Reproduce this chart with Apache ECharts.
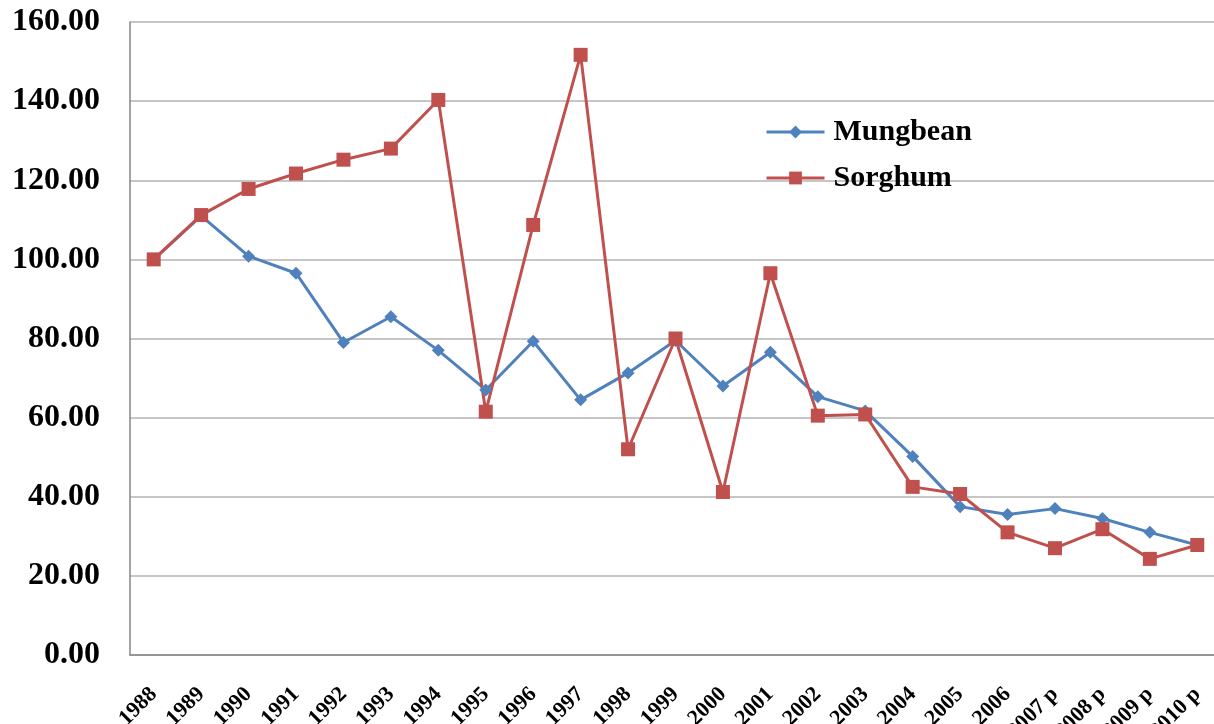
<!DOCTYPE html>
<html>
<head>
<meta charset="utf-8">
<script src="https://cdn.jsdelivr.net/npm/echarts@6/dist/echarts.min.js"></script>
<style>
  html, body { margin: 0; padding: 0; background: #fff; }
  #chart { width: 1214px; height: 724px; }
</style>
</head>
<body>
<div id="chart"></div>
<script>
// categories and values
const years = ['1988', '1989', '1990', '1991', '1992', '1993', '1994', '1995', '1996', '1997',
  '1998', '1999', '2000', '2001', '2002', '2003', '2004', '2005', '2006',
  '2007 p', '2008 p', '2009 p', '2010 p'];

const mungbean = [100, 111, 100.8, 96.5, 79, 85.5, 77, 67, 79.3, 64.5,
  71.3, 79.5, 68, 76.5, 65.3, 61.7, 50.2, 37.5, 35.5, 37, 34.5, 31, 27.8];

const sorghum = [100, 111.2, 117.8, 121.7, 125.2, 128, 140.3, 61.5, 108.7, 151.7,
  52, 80, 41.2, 96.5, 60.5, 60.8, 42.5, 40.7, 31, 27, 31.8, 24.3, 27.8];

const yTicks = [0, 20, 40, 60, 80, 100, 120, 140, 160];

const chart = echarts.init(document.getElementById('chart'));
const font = '"Liberation Serif", "Times New Roman", serif';

const option = {
  animation: false,
  backgroundColor: '#fff',
  textStyle: { fontFamily: font },
  grid: { left: 130, right: -7, top: 22, bottom: 69, containLabel: false, outerBoundsMode: 'none' },
  legend: {
    orient: 'vertical',
    left: 760,
    top: 112,
    itemGap: 16,
    itemWidth: 58,
    itemHeight: 16,
    lineStyle: { width: 3 },
    textStyle: { fontFamily: font, fontWeight: 'bold', fontSize: 30, color: '#000', padding: [0, 0, 0, 4] },
    data: ['Mungbean', 'Sorghum']
  },
  xAxis: {
    type: 'category',
    data: years,
    boundaryGap: true,
    axisLine: { lineStyle: { color: '#868686', width: 1.5 } },
    axisTick: { show: false },
    axisLabel: {
      rotate: 45,
      margin: 36,
      interval: 0,
      fontFamily: font,
      fontWeight: 'bold',
      fontSize: 22,
      color: '#000'
    }
  },
  yAxis: {
    type: 'value',
    min: yTicks[0],
    max: yTicks[yTicks.length - 1],
    interval: 20,
    axisLine: { show: true, lineStyle: { color: '#868686', width: 1.5 } },
    axisTick: { show: false },
    splitLine: { lineStyle: { color: '#b3b3b3', width: 1.5 } },
    axisLabel: {
      margin: 30,
      fontFamily: font,
      fontWeight: 'bold',
      fontSize: 32,
      color: '#000',
      formatter: v => v.toFixed(2)
    }
  },
  series: [
    {
      name: 'Mungbean',
      type: 'line',
      data: mungbean,
      symbol: 'diamond',
      symbolSize: 13,
      lineStyle: { color: '#4f81bd', width: 3 },
      itemStyle: { color: '#4f81bd' }
    },
    {
      name: 'Sorghum',
      type: 'line',
      data: sorghum,
      symbol: 'rect',
      symbolSize: 14,
      lineStyle: { color: '#c0504d', width: 3 },
      itemStyle: { color: '#c0504d' },
      z: 3
    }
  ]
};

chart.setOption(option);
</script>
</body>
</html>
